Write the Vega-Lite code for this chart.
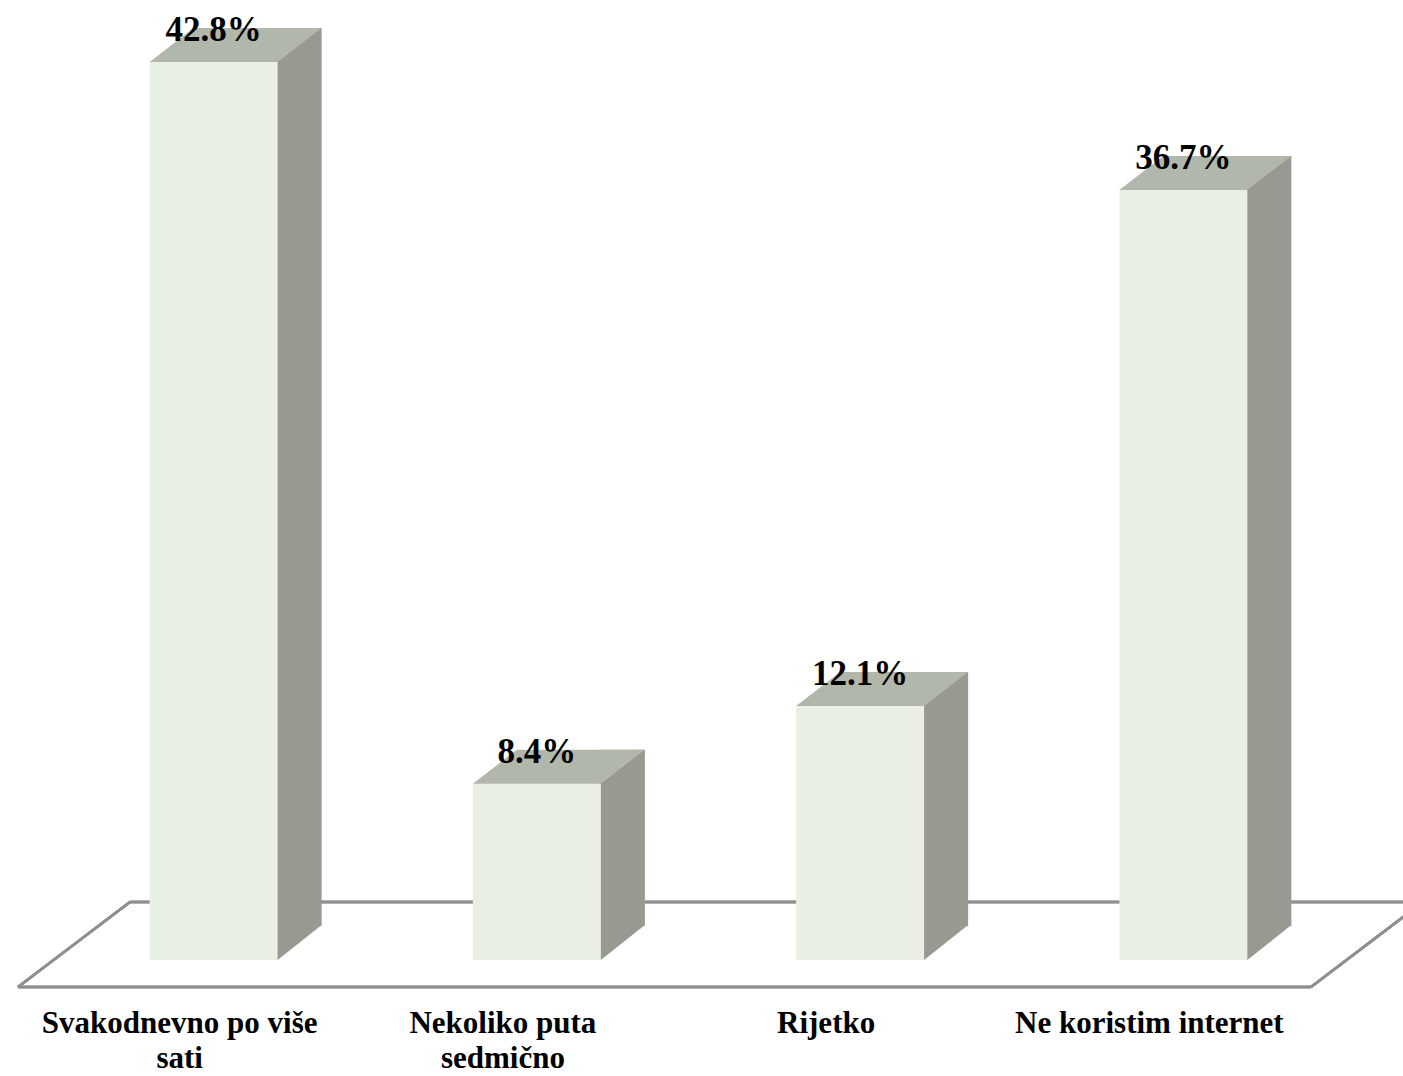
{
  "$schema": "https://vega.github.io/schema/vega-lite/v6.json",
  "width": 1293,
  "height": 960,
  "autosize": {"type": "none"},
  "padding": {"left": 18, "top": 0, "right": 92, "bottom": 116},
  "background": "#ffffff",
  "config": {"view": {"stroke": null}},
  "data": {
    "values": [
      {"category": "Svakodnevno po više sati", "value": 0.428},
      {"category": "Nekoliko puta sedmično", "value": 0.084},
      {"category": "Rijetko", "value": 0.121},
      {"category": "Ne koristim internet", "value": 0.367}
    ]
  },
  "encoding": {
    "x": {
      "field": "category",
      "type": "nominal",
      "sort": null,
      "scale": {
        "domain": ["Svakodnevno po više sati", "Nekoliko puta sedmično", "Rijetko", "Ne koristim internet"],
        "paddingInner": 0,
        "paddingOuter": 0
      },
      "axis": {
        "title": null,
        "orient": "bottom",
        "offset": 27,
        "ticks": false,
        "tickSize": 0,
        "domain": false,
        "labelAngle": 0,
        "labelFont": "Liberation Serif",
        "labelFontWeight": "bold",
        "labelFontSize": 31,
        "labelColor": "#000000",
        "labelBaseline": "alphabetic",
        "labelPadding": 45,
        "labelLineHeight": 35,
        "labelLimit": 400,
        "labelExpr": "datum.value == 'Svakodnevno po više sati' ? ['Svakodnevno po više', 'sati'] : datum.value == 'Nekoliko puta sedmično' ? ['Nekoliko puta', 'sedmično'] : datum.value"
      }
    },
    "y": {"field": "value", "type": "quantitative", "scale": {"domain": [0, 0.4575], "nice": false, "zero": true}, "axis": null}
  },
  "layer": [
    {
      "mark": {"type": "rule", "color": "#8f8f8f", "strokeWidth": 2.5, "yOffset": 27},
      "encoding": {
        "x": {"datum": "Svakodnevno po više sati", "bandPosition": 0},
        "x2": {"datum": "Ne koristim internet", "bandPosition": 1},
        "y": {"datum": 0}
      }
    },
    {
      "mark": {"type": "rule", "color": "#8f8f8f", "strokeWidth": 2.5, "xOffset": 112, "x2Offset": 112, "yOffset": -58},
      "encoding": {
        "x": {"datum": "Svakodnevno po više sati", "bandPosition": 0},
        "x2": {"datum": "Ne koristim internet", "bandPosition": 1},
        "y": {"datum": 0}
      }
    },
    {
      "mark": {"type": "rule", "color": "#8f8f8f", "strokeWidth": 2.5, "x2Offset": 112, "yOffset": 27, "y2Offset": -58},
      "encoding": {
        "x": {"datum": "Svakodnevno po više sati", "bandPosition": 0},
        "x2": {"datum": "Svakodnevno po više sati", "bandPosition": 0},
        "y": {"datum": 0},
        "y2": {"datum": 0}
      }
    },
    {
      "mark": {"type": "rule", "color": "#8f8f8f", "strokeWidth": 2.5, "x2Offset": 112, "yOffset": 27, "y2Offset": -58},
      "encoding": {
        "x": {"datum": "Ne koristim internet", "bandPosition": 1},
        "x2": {"datum": "Ne koristim internet", "bandPosition": 1},
        "y": {"datum": 0},
        "y2": {"datum": 0}
      }
    },
    {
      "mark": {"type": "bar", "width": 46, "xOffset": 119, "yOffset": -34, "y2Offset": -34, "fill": "#969a91", "stroke": null},
      "encoding": {
        "y2": {"datum": 0}
      }
    },
    {
      "mark": {"type": "point", "shape": "M96,-35L96,0L98,0L142,-35Z", "size": 4, "filled": true, "opacity": 1, "fill": "#969a91", "strokeWidth": 0},
      "encoding": {
        "y": {"datum": 0}
      }
    },
    {
      "mark": {"type": "bar", "width": 128, "xOffset": 34, "fill": "#eaefe3", "stroke": null},
      "encoding": {
        "y2": {"datum": 0}
      }
    },
    {
      "mark": {"type": "point", "shape": "M-30,0L98,0L142,-34L14,-34Z", "size": 4, "filled": true, "opacity": 1, "fill": "#b2b7ac", "strokeWidth": 0},
      "encoding": {}
    },
    {
      "mark": {"type": "text", "xOffset": 34, "dy": -21, "baseline": "alphabetic", "align": "center", "font": "Liberation Serif", "fontWeight": "bold", "fontSize": 35, "color": "#000000"},
      "encoding": {
        "text": {"field": "value", "type": "quantitative", "format": ".1%"}
      }
    }
  ]
}
